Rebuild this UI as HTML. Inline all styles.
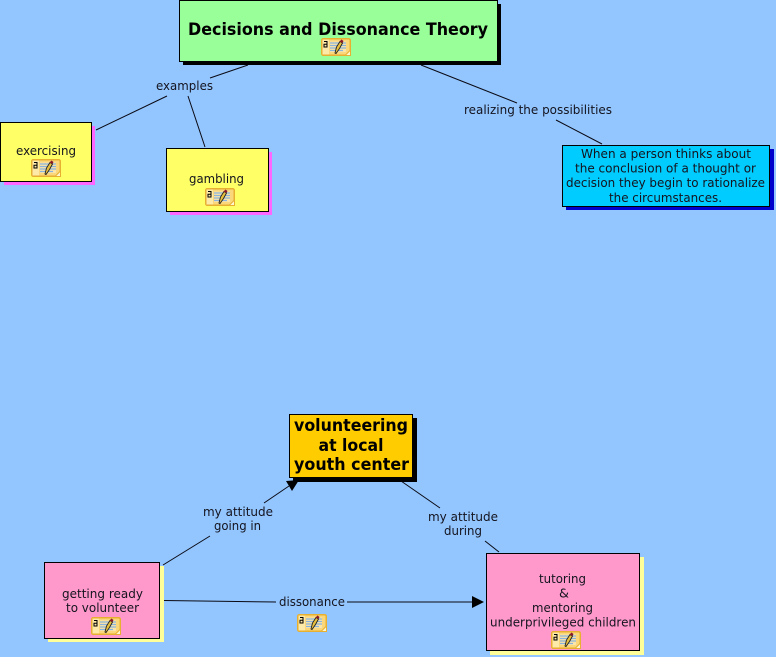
<!DOCTYPE html>
<html><head><meta charset="utf-8"><style>
html,body{margin:0;padding:0;background:#93c6ff}
svg{display:block}
text{font-family:"DejaVu Sans","Liberation Sans",sans-serif;font-size:12.6px;fill:#14141e}
.b{font-weight:bold;fill:#000}
</style></head><body>
<svg width="776" height="657" viewBox="0 0 776 657" xmlns="http://www.w3.org/2000/svg">
<defs>
<g id="ic">
<rect x="0.75" y="0.75" width="28.5" height="16.5" rx="1.5" fill="#fbd77c" stroke="#e8b030" stroke-width="1.5"/>
<rect x="1.5" y="1.5" width="6.5" height="15" fill="#fde9a8"/>
<path d="M24 17.5L29.5 12V17.5Z" fill="#fff6d0" stroke="#e8b030"/>
<path d="M3 3.5h3v5.5h-3v-2.7h3" fill="none" stroke="#000" stroke-width="1"/>
<path d="M9 5h16M9 7.5h16M9 10h16M9 12.5h13" stroke="#4a8ac8" stroke-width="1.2"/>
<rect x="9" y="3.5" width="16" height="10.5" fill="#fff" fill-opacity=".35"/>
<path d="M14 15L15.5 9L19 3.5L21.5 5L18.5 10.5L15 15.5Z" fill="#e8c040" stroke="#222" stroke-width=".9"/>
<path d="M18.5 3.5L20.5 1.5L22.5 3L21.5 5Z" fill="#8a1a2a"/>
</g>
</defs>
<rect width="776" height="657" fill="#93c6ff"/>

<g stroke="#0a0a14" stroke-width="1" fill="none">
<path d="M248 65L210 78M167 96L96 130M188 96L205 147M421 65L517 103M556 120L602 144"/>
<path d="M163 565L210 536M264 503L289 486M401 481L440 508M485 541L499 552"/>
<path d="M164 600.5L276 602M347 602L474 602"/>
</g>

<!-- title -->
<rect x="183" y="4" width="318" height="61" fill="#000"/>
<rect x="179.5" y="0.5" width="318" height="61" fill="#99ff99" stroke="#000"/>
<text class="b" x="188" y="35" style="font-size:16.5px" textLength="300" lengthAdjust="spacingAndGlyphs">Decisions and Dissonance Theory</text>
<use href="#ic" x="321" y="38"/>

<!-- exercising -->
<rect x="4" y="126" width="91" height="59" fill="#ff66ff"/>
<rect x="0.5" y="122.5" width="91" height="59" fill="#ffff66" stroke="#000"/>
<text x="16" y="155" textLength="60" lengthAdjust="spacingAndGlyphs">exercising</text>
<use href="#ic" x="31" y="159"/>

<!-- gambling -->
<rect x="170" y="152" width="102" height="63" fill="#ff66ff"/>
<rect x="166.5" y="148.5" width="102" height="63" fill="#ffff66" stroke="#000"/>
<text x="189" y="183" textLength="55" lengthAdjust="spacingAndGlyphs">gambling</text>
<use href="#ic" x="205" y="188"/>

<!-- blue -->
<rect x="566" y="149" width="208" height="61" fill="#0000cc"/>
<rect x="562.5" y="145.5" width="207" height="61" fill="#00ccff" stroke="#000"/>
<text x="581" y="158" textLength="170" lengthAdjust="spacingAndGlyphs">When a person thinks about</text>
<text x="575" y="172.5" textLength="181" lengthAdjust="spacingAndGlyphs">the conclusion of a thought or</text>
<text x="566" y="187" textLength="199" lengthAdjust="spacingAndGlyphs">decision they begin to rationalize</text>
<text x="609" y="202" textLength="113" lengthAdjust="spacingAndGlyphs">the circumstances.</text>

<!-- orange -->
<rect x="293" y="418" width="124" height="64" fill="#000"/>
<rect x="289.5" y="414.5" width="123" height="63" fill="#ffcc00" stroke="#000"/>
<text class="b" x="294" y="431" style="font-size:17px" textLength="114" lengthAdjust="spacingAndGlyphs">volunteering</text>
<text class="b" x="318.5" y="451" style="font-size:17px" textLength="65" lengthAdjust="spacingAndGlyphs">at local</text>
<text class="b" x="294" y="470" style="font-size:17px" textLength="115" lengthAdjust="spacingAndGlyphs">youth center</text>

<!-- getting ready -->
<rect x="48" y="566" width="116" height="76" fill="#ffff99"/>
<rect x="44.5" y="562.5" width="115" height="76" fill="#ff99cc" stroke="#000"/>
<text x="62" y="598" textLength="81" lengthAdjust="spacingAndGlyphs">getting ready</text>
<text x="66" y="612" textLength="73" lengthAdjust="spacingAndGlyphs">to volunteer</text>
<use href="#ic" x="91" y="617"/>

<!-- tutoring -->
<rect x="490" y="557" width="154" height="98" fill="#ffff99"/>
<rect x="486.5" y="553.5" width="153" height="97" fill="#ff99cc" stroke="#000"/>
<text x="539" y="583" textLength="47" lengthAdjust="spacingAndGlyphs">tutoring</text>
<text x="559" y="597.5" textLength="10" lengthAdjust="spacingAndGlyphs">&amp;</text>
<text x="532" y="612" textLength="61" lengthAdjust="spacingAndGlyphs">mentoring</text>
<text x="490" y="626.5" textLength="146" lengthAdjust="spacingAndGlyphs">underprivileged children</text>
<use href="#ic" x="551" y="631"/>

<!-- labels -->
<text x="156" y="90" textLength="57" lengthAdjust="spacingAndGlyphs">examples</text>
<text x="464" y="114" textLength="148" lengthAdjust="spacingAndGlyphs">realizing the possibilities</text>
<text x="203" y="516" textLength="70" lengthAdjust="spacingAndGlyphs">my attitude</text>
<text x="214" y="530" textLength="47" lengthAdjust="spacingAndGlyphs">going in</text>
<text x="428" y="521" textLength="70" lengthAdjust="spacingAndGlyphs">my attitude</text>
<text x="444" y="535" textLength="38" lengthAdjust="spacingAndGlyphs">during</text>
<text x="279" y="606" textLength="66" lengthAdjust="spacingAndGlyphs">dissonance</text>
<use href="#ic" x="297" y="614"/>

<!-- arrowheads -->
<polygon points="286,481 299,480 292,491" fill="#000"/>
<polygon points="484,602 472,596 472,608" fill="#000"/>
</svg>
</body></html>
